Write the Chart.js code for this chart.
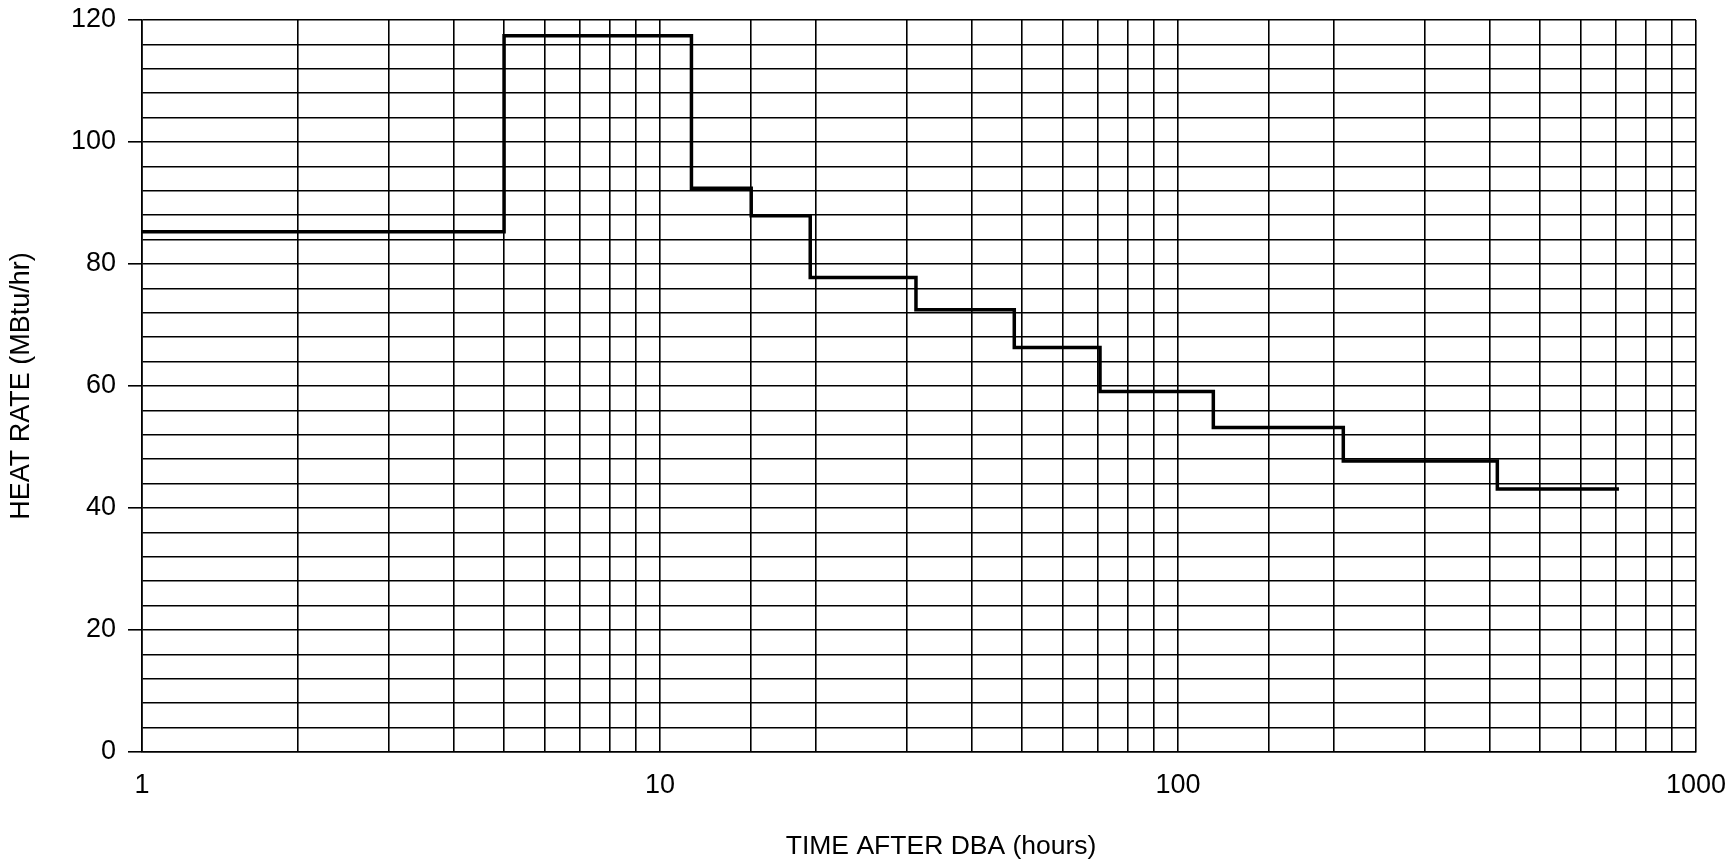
<!DOCTYPE html>
<html>
<head>
<meta charset="utf-8">
<script src="https://cdn.jsdelivr.net/npm/chart.js@4/dist/chart.umd.min.js"></script>
<style>
    html, body { margin: 0; padding: 0; background: #fff; }
    #wrap { width: 1734px; height: 863px; position: relative; }
</style>
</head>
<body>
<div id="wrap"><canvas id="heatChart"></canvas></div>
<script>
// step edges (hours) and the heat rate held between each pair of edges
const stepEdges = [1, 5, 11.5, 15, 19.5, 31.2, 48.3, 70.7, 117, 208.5, 413.5, 710];
const heatRate = [85.3, 117.4, 92.4, 87.9, 77.8, 72.5, 66.3, 59.1, 53.2, 47.7, 43.1];

// labelled ticks
const xTickLabels = [1, 10, 100, 1000];
const yTickLabels = [0, 20, 40, 60, 80, 100, 120];

const FONT = 'Liberation Sans, Arial, sans-serif';

// last edge repeats the last value so the final step gets drawn
const points = stepEdges.map((x, i) => ({ x: x, y: heatRate[Math.min(i, heatRate.length - 1)] }));

new Chart(document.getElementById('heatChart'), {
    type: 'line',
    data: {
        datasets: [{
            data: points,
            stepped: 'before',
            borderColor: '#000',
            borderWidth: 3.5,
            pointRadius: 0,
            fill: false
        }]
    },
    options: {
        responsive: true,
        maintainAspectRatio: false,
        animation: false,
        layout: { padding: { top: 20, right: 38, bottom: 0, left: 0 } },
        plugins: {
            legend: { display: false },
            tooltip: { enabled: false }
        },
        scales: {
            x: {
                type: 'logarithmic',
                min: 1,
                max: 1000,
                // fixed box, let layout padding decide the plot edges
                afterFit: s => { s.height = 111; s.paddingLeft = 0; s.paddingRight = 0; },
                grid: { color: '#000', lineWidth: 1.6, drawTicks: false },
                border: { color: '#000', width: 1.6 },
                ticks: {
                    autoSkip: false,
                    maxRotation: 0,
                    padding: 17,
                    color: '#000',
                    font: { family: FONT, size: 27 },
                    callback: v => xTickLabels.includes(v) ? String(v) : ''
                },
                title: {
                    display: true,
                    // leading spaces push the centred title a little right, as in the original
                    text: '\u00a0'.repeat(6) + 'TIME AFTER DBA (hours)',
                    color: '#000',
                    font: { family: FONT, size: 26.5 },
                    padding: { top: 0, bottom: 0 }
                }
            },
            y: {
                min: 0,
                max: 120,
                afterFit: s => { s.width = 142; s.paddingTop = 0; s.paddingBottom = 0; },
                grid: {
                    color: '#000',
                    lineWidth: 1.6,
                    tickLength: 14,
                    tickColor: c => yTickLabels.includes(c.tick.value) ? '#000' : 'rgba(0,0,0,0)'
                },
                border: { color: '#000', width: 1.6 },
                ticks: {
                    stepSize: 4,
                    autoSkip: false,
                    padding: 12,
                    color: '#000',
                    font: { family: FONT, size: 27 },
                    callback: v => yTickLabels.includes(v) ? String(v) : ''
                },
                title: {
                    display: true,
                    text: 'HEAT RATE (MBtu/hr)',
                    color: '#000',
                    font: { family: FONT, size: 27 },
                    padding: { top: 5, bottom: 0 }
                }
            }
        }
    }
});
</script>
</body>
</html>
